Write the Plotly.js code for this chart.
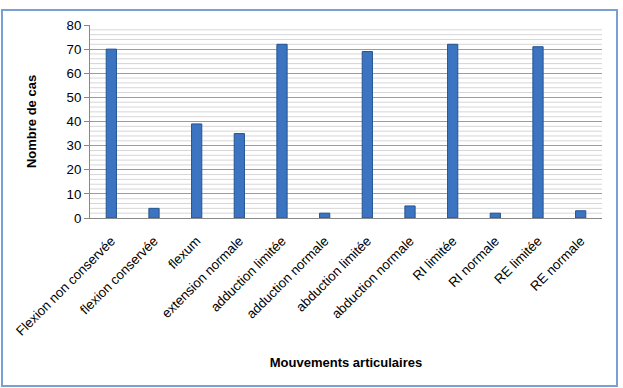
<!DOCTYPE html>
<html><head><meta charset="utf-8">
<script src="https://cdn.plot.ly/plotly-3.0.1.min.js"></script>
<style>html,body{margin:0;padding:0;background:#fff;}#chart{width:623px;height:388px;}</style>
</head><body><div id="chart"></div>
<script>
const categories = ["Flexion non conservée","flexion conservée","flexum","extension normale","adduction limitée","adduction normale","abduction limitée","abduction normale","RI limitée","RI normale","RE limitée","RE normale"];
const values = [70, 4, 39, 35, 72, 2, 69, 5, 72, 2, 71, 3];
const yTicks = [0,10,20,30,40,50,60,70,80];

const L = 90, R = 21, T = 25, B = 170, W = 623, H = 388;
const pw = W - L - R, ph = H - T - B;
const px = x => (x - L) / pw;
const py = y => (H - B - y) / ph;

const minorShapes = [];
for (let v = 2; v < 80; v += 2) {
  if (v % 10 === 0) continue;
  minorShapes.push({type:'line', xref:'paper', yref:'y', x0:0, x1:1, y0:v, y1:v, line:{color:'#d6d6d6', width:1}, layer:'below'});
}

const trace = {
  type:'bar', x: categories, y: values,
  marker:{color:'#3c74c2', line:{color:'#24548f', width:1}},
  width: 0.24, hoverinfo:'none'
};

const layout = {
  width: W, height: H,
  margin:{l:L, r:R, t:T, b:B},
  paper_bgcolor:'#fff', plot_bgcolor:'#fff',
  font:{family:'Liberation Sans, Arial, sans-serif', size:13, color:'#000'},
  showlegend:false,
  xaxis:{
    tickangle:-45, tickfont:{size:13.3}, showgrid:false,
    showline:true, linecolor:'#888', linewidth:1,
    ticks:'outside', ticklen:9, tickcolor:'rgba(0,0,0,0)',
    title:{text:'<b>Mouvements articulaires</b>', font:{size:13}, standoff:20},
    automargin:false
  },
  yaxis:{
    range:[0,80], tickvals:yTicks, ticktext:yTicks.map(String),
    showgrid:true, gridcolor:'#9c9c9c', gridwidth:1,
    showline:true, linecolor:'#888', linewidth:1, ticks:'outside', ticklen:5, tickcolor:'#888',
    tickfont:{size:13.3}, zeroline:false,
    title:{text:'<b>Nombre de cas</b>', font:{size:13}, standoff:26},
    automargin:false
  },
  shapes: minorShapes.concat([
    {type:'rect', xref:'paper', yref:'paper', x0:px(2), x1:px(617), y0:py(386), y1:py(10), line:{color:'#7a9fd4', width:2}, fillcolor:'rgba(0,0,0,0)'}
  ])
};

Plotly.newPlot('chart', [trace], layout, {displayModeBar:false, staticPlot:true});
</script></body></html>
